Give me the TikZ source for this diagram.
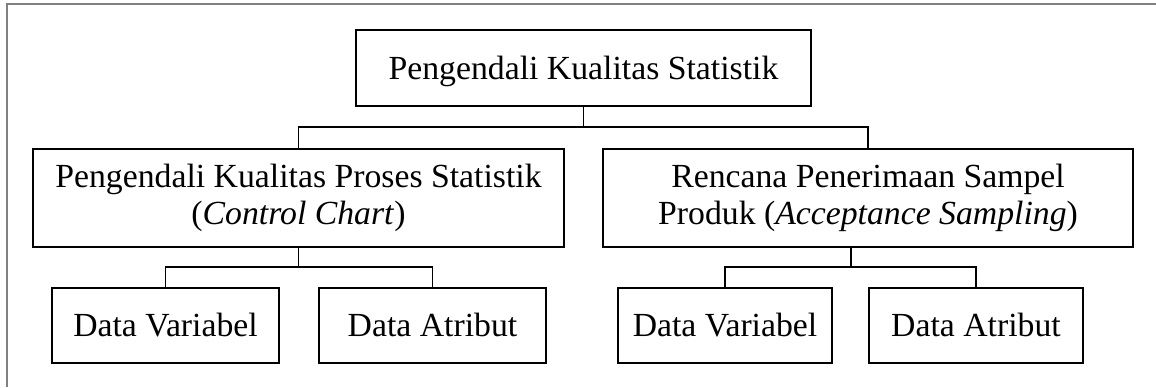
\documentclass[tikz,border=0pt]{standalone}
\usepackage{fontspec}
\setmainfont{Liberation Serif}
\usepackage{tikz}

\tikzset{
    kotak/.style={draw, line width=1.4pt, inner sep=0pt, align=center,
        font=\fontsize{25.3}{27.8}\selectfont},
    daun/.style={kotak, text height=17.7pt, text depth=0.5pt},
    garis/.style={line width=1.4pt}
}

\begin{document}
\begin{tikzpicture}[x=0.75pt,y=0.75pt,yscale=-1,xscale=1]
    \useasboundingbox (0,0) rectangle (1156,387);

    % frame
    \draw [color={rgb, 255:red, 128; green, 128; blue, 128}, line width=1.5pt] (7,387) -- (7,4) -- (1156,4);

    % top level
    \node [daun, minimum width=455*0.75pt, minimum height=76*0.75pt] (pks) at (583.5,68) {Pengendali Kualitas Statistik};

    % second level
    \node [kotak, minimum width=531*0.75pt, minimum height=98*0.75pt] (proses) at (298.5,198) {Pengendali Kualitas Proses Statistik\\(\textit{Control Chart})};
    \node [kotak, minimum width=530*0.75pt, minimum height=98*0.75pt] (sampel) at (868,198) {Rencana Penerimaan Sampel\\Produk (\textit{Acceptance Sampling})};

    % third level
    \node [daun, minimum width=227*0.75pt, minimum height=75*0.75pt] (varA) at (165.5,325.5) {Data Variabel};
    \node [daun, minimum width=227*0.75pt, minimum height=75*0.75pt] (atrA) at (432.5,325.5) {Data Atribut};
    \node [daun, minimum width=214*0.75pt, minimum height=75*0.75pt] (varB) at (725,325.5) {Data Variabel};
    \node [daun, minimum width=214*0.75pt, minimum height=75*0.75pt] (atrB) at (976,325.5) {Data Atribut};

    % junctions
    \coordinate (j1) at (583.5,127);
    \coordinate (j2) at (298.5,267);
    \coordinate (j3) at (851,267);

    % connectors
    \draw [garis] (pks.south) -- (j1);
    \draw [garis] (proses.north) |- (j1) -| (sampel.north);
    \draw [garis] (proses.south) -- (j2);
    \draw [garis] (varA.north) |- (j2) -| (atrA.north);
    \draw [garis] (j3 |- sampel.south) -- (j3);
    \draw [garis] (varB.north) |- (j3) -| (atrB.north);
\end{tikzpicture}
\end{document}
